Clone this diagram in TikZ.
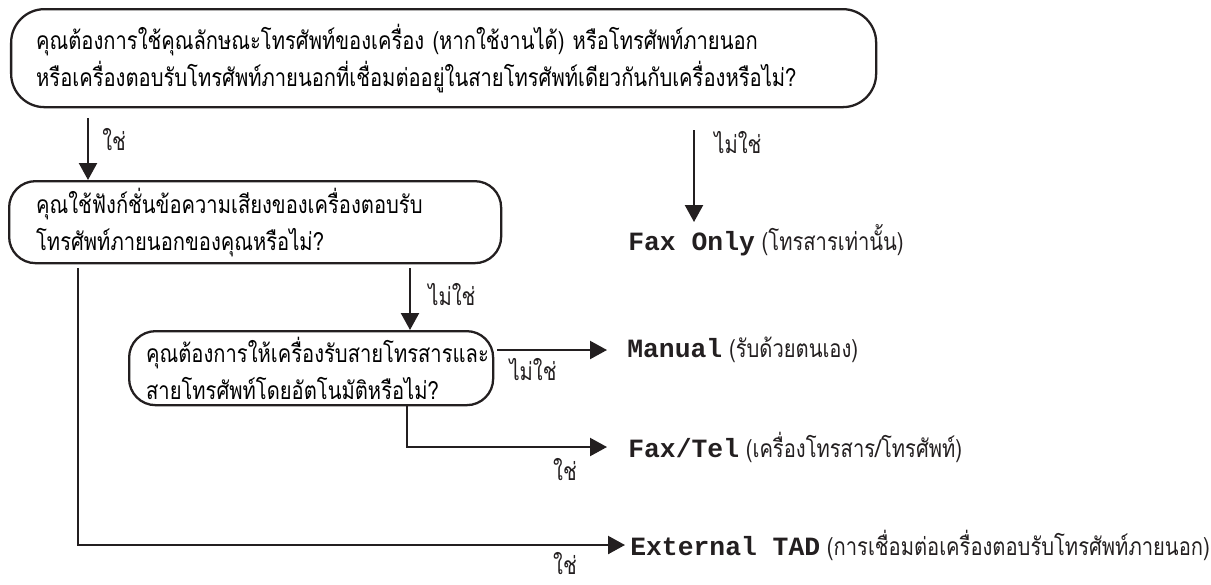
\documentclass[tikz,border=0pt]{standalone}
\usepackage{fontspec}
\setmainfont[Script=Thai, FakeStretch=0.82]{Loma}
\newfontfamily\modefont{Liberation Mono}
\usetikzlibrary{arrows.meta, calc}
\definecolor{inkcolor}{RGB}{35,31,32}
\newcommand{\thaisize}{\fontsize{14}{21}\selectfont}
\tikzset{
  qbox/.style  = {draw=inkcolor, line width=1.3pt, rounded corners=15pt, align=left,
                  font=\thaisize, anchor=north west, inner ysep=0pt},
  arrow/.style = {-{Triangle[length=0.34cm, width=0.36cm]}, line width=1.3pt, color=inkcolor},
  lbl/.style   = {font=\thaisize, text=inkcolor, inner sep=0pt},
  mode/.style  = {font=\thaisize, text=inkcolor, anchor=west, inner sep=0pt},
}
\newcommand{\modename}[1]{{\modefont\fontsize{15}{18}\selectfont\bfseries #1}}

\begin{document}
\begin{tikzpicture}
  \useasboundingbox (0,0) rectangle (24.22,-11.68);
  % questions
  \node[qbox, rounded corners=19pt, minimum height=1.96cm, text width=16.3cm, inner xsep=0.5cm] (q1) at (0.2,-0.16)
    {คุณต้องการใช้คุณลักษณะโทรศัพท์ของเครื่อง (หากใช้งานได้) หรือโทรศัพท์ภายนอก\\
     หรือเครื่องตอบรับโทรศัพท์ภายนอกที่เชื่อมต่ออยู่ในสายโทรศัพท์เดียวกันกับเครื่องหรือไม่?};
  \node[qbox, minimum height=1.64cm, text width=8.76cm, inner xsep=0.54cm] (q2) at (0.16,-3.6)
    {คุณใช้ฟังก์ชั่นข้อความเสียงของเครื่องตอบรับ\\
     โทรศัพท์ภายนอกของคุณหรือไม่?};
  \node[qbox, minimum height=1.48cm, text width=6.6cm, inner xsep=0.34cm] (q3) at (2.56,-6.6)
    {คุณต้องการให้เครื่องรับสายโทรสารและ\\
     สายโทรศัพท์โดยอัตโนมัติหรือไม่?};

  % receive modes
  \node[mode] (fax) at (12.56,-4.8) {\modename{Fax Only} (โทรสารเท่านั้น)};
  \node[mode] (manual) at (12.54,-7.0) {\modename{Manual} (รับด้วยตนเอง)};
  \node[mode] (faxtel) at (12.56,-8.94) {\modename{Fax/Tel} (เครื่องโทรสาร/โทรศัพท์)};
  \node[mode] (tad) at (12.6,-10.9) {\modename{External TAD} (การเชื่อมต่อเครื่องตอบรับโทรศัพท์ภายนอก)};

  % connectors
  \coordinate (y1) at (1.76,-2.36);
  \coordinate (n1) at (13.88,-2.6);
  \coordinate (n2) at (8.2,-5.36);
  \coordinate (m0) at (9.94,-7.0);
  \coordinate (f0) at (8.14,-8.08);
  \coordinate (e0) at (1.56,-5.36);
  \draw[arrow] (y1) -- (y1 |- q2.north);
  \draw[arrow] (n1) -- (13.88,-4.44);
  \draw[arrow] (n2) -- (n2 |- q3.north);
  \draw[arrow] (m0) -- ([xshift=-0.4cm]manual.west);
  \draw[arrow] (f0) |- ([xshift=-0.42cm]faxtel.west);
  \draw[arrow] (e0) |- ([xshift=-0.1cm]tad.west);

  % answers
  \node[lbl, anchor=west] at (2.04,-2.8) {ใช่};
  \node[lbl, anchor=west] at (14.28,-2.86) {ไม่ใช่};
  \node[lbl, anchor=west] at (8.56,-5.9) {ไม่ใช่};
  \node[lbl] at (10.66,-7.4) {ไม่ใช่};
  \node[lbl] at (11.3,-9.4) {ใช่};
  \node[lbl] at (11.3,-11.28) {ใช่};
\end{tikzpicture}
\end{document}
